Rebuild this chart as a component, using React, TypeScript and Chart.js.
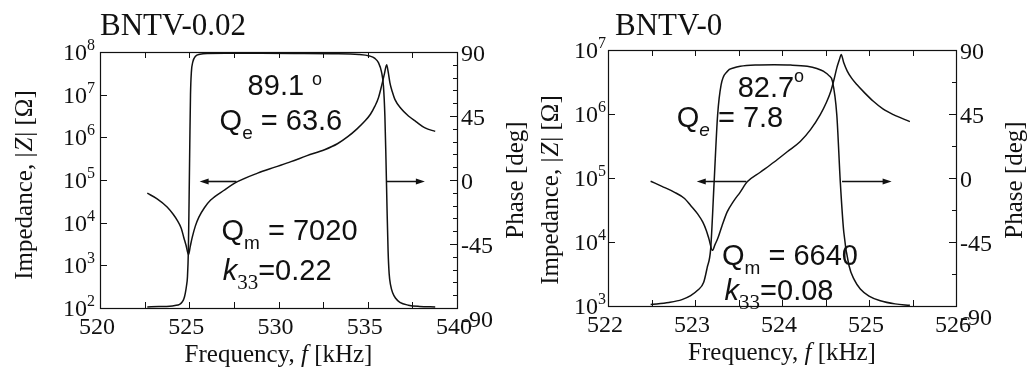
import React, { useEffect, useRef } from "react";
import { Chart, registerables } from "chart.js";

Chart.register(...registerables);

// ---------------- Data: BNTV-0.02 ----------------
const titleA = "BNTV-0.02";
const impFreqA = [522.65, 523.2, 523.76, 524.1, 524.32, 524.55, 524.69, 524.82, 524.96, 525.06, 525.17, 525.34, 525.54, 525.85, 526.2, 526.95, 527.7, 528.83, 529.8, 530.7, 531.6, 532.58, 533.3, 533.9, 534.4, 534.84, 535.15, 535.4, 535.6, 535.77, 535.93, 536.06, 536.15, 536.24, 536.38, 536.52, 536.85, 537.28, 537.7, 538.21, 538.78];
const impA = [49000, 36300, 23400, 15800, 11500, 7400, 4570, 2950, 1780, 2820, 4570, 8300, 13500, 22400, 33900, 57500, 91200, 145000, 200000, 269000, 372000, 513000, 708000, 1050000, 1580000, 2400000, 3470000, 5370000, 8510000, 15800000, 30200000, 50100000, 33100000, 19100000, 11500000, 7760000, 4790000, 3160000, 2340000, 1660000, 1380000];
const phFreqA = [522.65, 523.3, 523.9, 524.2, 524.46, 524.6, 524.7, 524.78, 524.85, 524.9, 524.95, 524.99, 525.03, 525.07, 525.12, 525.2, 525.35, 525.6, 526.0, 527.0, 529.0, 531.0, 533.0, 534.5, 535.1, 535.4, 535.6, 535.77, 535.88, 535.96, 536.02, 536.08, 536.14, 536.2, 536.28, 536.4, 536.55, 536.8, 537.28, 537.9, 538.78];
const phA = [-89.3, -89.0, -88.7, -88.2, -87.4, -85.8, -83.5, -79.5, -74, -68, -50, -15, 25, 60, 76, 83, 87, 88.4, 89.0, 89.1, 89.1, 89.0, 88.8, 88.3, 87.2, 85.5, 82.5, 76, 66, 45, 15, -20, -50, -66, -74, -79.5, -83, -86, -88, -88.9, -89.3];
const xTicksA = [520, 522.5, 525, 527.5, 530, 532.5, 535, 537.5, 540];
const xLabelsA = [520, 525, 530, 535, 540];
const decadesA = [2, 3, 4, 5, 6, 7, 8];
const phTicksA = [-90, -81, -72, -63, -54, -45, -36, -27, -18, -9, 0, 9, 18, 27, 36, 45, 54, 63, 72, 81, 90];

// ---------------- Data: BNTV-0 ----------------
const titleB = "BNTV-0";
const impFreqB = [522.49, 522.62, 522.76, 522.88, 522.95, 523.03, 523.09, 523.13, 523.16, 523.2, 523.23, 523.26, 523.31, 523.37, 523.44, 523.52, 523.6, 523.75, 523.91, 524.06, 524.21, 524.33, 524.44, 524.51, 524.56, 524.6, 524.63, 524.66, 524.68, 524.71, 524.75, 524.8, 524.86, 524.95, 525.05, 525.16, 525.28, 525.47];
const impB = [89100, 74100, 60300, 47900, 37200, 27500, 20400, 15100, 11200, 7400, 9100, 11200, 17800, 29500, 42700, 60300, 87100, 123000, 178000, 257000, 372000, 575000, 977000, 1510000, 2240000, 3550000, 5250000, 7080000, 8510000, 6310000, 4680000, 3630000, 2880000, 2140000, 1580000, 1200000, 977000, 759000];
const phFreqB = [522.49, 522.7, 522.85, 522.95, 523.03, 523.1, 523.14, 523.18, 523.22, 523.26, 523.3, 523.37, 523.45, 523.52, 523.7, 523.91, 524.1, 524.29, 524.4, 524.48, 524.54, 524.58, 524.63, 524.67, 524.71, 524.77, 524.83, 524.9, 525.0, 525.13, 525.3, 525.47];
const phB = [-89, -87.5, -85.5, -82.7, -79, -73.3, -63, -49.8, -2.7, 44.3, 65.5, 74.9, 77.5, 78.5, 79.4, 79.6, 79.4, 78.5, 77, 74.9, 72, 67.9, 44.3, -2.7, -38, -61.5, -71.5, -78, -83, -86.3, -88.5, -89.5];
const xTicksB = [522, 522.5, 523, 523.5, 524, 524.5, 525, 525.5, 526];
const xLabelsB = [522, 523, 524, 525, 526];
const decadesB = [3, 4, 5, 6, 7];
const phTicksB = [-90, -67.5, -45, -22.5, 0, 22.5, 45, 67.5, 90];

const phLabels = [-90, -45, 0, 45, 90];

const SERIF = '"Liberation Serif", "Times New Roman", serif';
const SANS = '"Liberation Sans", Arial, sans-serif';

type Seg = { t: string; font: string; dy?: number; dx?: number };

function segWidth(ctx: CanvasRenderingContext2D, segs: Seg[]) {
  let w = 0;
  for (const s of segs) {
    ctx.font = s.font;
    w += ctx.measureText(s.t).width + (s.dx || 0);
  }
  return w;
}

function drawSegs(ctx: CanvasRenderingContext2D, segs: Seg[], x: number, y: number, align: "left" | "right" | "center") {
  const w = segWidth(ctx, segs);
  let cx = align === "left" ? x : align === "right" ? x - w : x - w / 2;
  ctx.textAlign = "left";
  ctx.textBaseline = "alphabetic";
  for (const s of segs) {
    ctx.font = s.font;
    cx += s.dx || 0;
    ctx.fillText(s.t, cx, y + (s.dy || 0));
    cx += ctx.measureText(s.t).width;
  }
}

function arrow(ctx: CanvasRenderingContext2D, x0: number, x1: number, y: number) {
  const dir = x1 > x0 ? 1 : -1;
  ctx.beginPath();
  ctx.moveTo(x0, y);
  ctx.lineTo(x1 - dir * 6, y);
  ctx.lineWidth = 1.6;
  ctx.stroke();
  ctx.beginPath();
  ctx.moveTo(x1, y);
  ctx.lineTo(x1 - dir * 9, y - 3);
  ctx.lineTo(x1 - dir * 9, y + 3);
  ctx.closePath();
  ctx.fill();
}

type Panel = {
  title: string;
  impFreq: number[];
  imp: number[];
  phFreq: number[];
  ph: number[];
  xMin: number;
  xMax: number;
  decMin: number;
  decMax: number;
  xTicks: number[];
  xLabels: number[];
  decades: number[];
  phTicks: number[];
  canvasLeft: number;
  canvasWidth: number;
  padding: { left: number; right: number; top: number; bottom: number };
  titleDx: number;
  labelGap: number;
  yTitleX: number;
  yTitleY: number;
  italicE: boolean;
  annot: { ang: string; angX: number; angY: number; degDy: number; degGap: string; qe: string; qeX: number; qeY: number; qm: string; qmX: number; qmY: number; k: string; kX: number; kY: number };
  arrows: { from: number; to: number; y: number }[];
};

const panelA: Panel = {
  title: titleA,
  impFreq: impFreqA,
  imp: impA,
  phFreq: phFreqA,
  ph: phA,
  xMin: 520,
  xMax: 540,
  decMin: 2,
  decMax: 8,
  xTicks: xTicksA,
  xLabels: xLabelsA,
  decades: decadesA,
  phTicks: phTicksA,
  canvasLeft: 0,
  canvasWidth: 530,
  padding: { left: 100, right: 73, top: 52, bottom: 63 },
  titleDx: 0,
  labelGap: 5,
  yTitleX: 24,
  yTitleY: 185,
  italicE: false,
  annot: { ang: "89.1", angX: 528.27, angY: 59.8, degDy: -10, degGap: " ", qe: "63.6", qeX: 526.7, qeY: 35.2, qm: "7020", qmX: 526.81, qmY: -42.2, k: "0.22", kX: 526.87, kY: -70.3 },
  arrows: [
    { from: 527.64, to: 525.58, y: -0.9 },
    { from: 536.07, to: 538.2, y: -0.9 },
  ],
};

const panelB: Panel = {
  title: titleB,
  impFreq: impFreqB,
  imp: impB,
  phFreq: phFreqB,
  ph: phB,
  xMin: 522,
  xMax: 526,
  decMin: 3,
  decMax: 7,
  xTicks: xTicksB,
  xLabels: xLabelsB,
  decades: decadesB,
  phTicks: phTicksB,
  canvasLeft: 500,
  canvasWidth: 527,
  padding: { left: 108, right: 71, top: 50, bottom: 65 },
  titleDx: 7,
  labelGap: 2,
  yTitleX: 50,
  yTitleY: 190,
  italicE: true,
  annot: { ang: "82.7", angX: 523.49, angY: 57, degDy: -15, degGap: "", qe: "7.8", qeX: 522.79, qeY: 35.9, qm: "6640", qmX: 523.31, qmY: -61.2, k: "0.08", kX: 523.34, kY: -85.8 },
  arrows: [
    { from: 523.59, to: 523.02, y: -2.3 },
    { from: 524.69, to: 525.26, y: -2.3 },
  ],
};

function makeDecor(p: Panel) {
  return {
    id: "decor",
    afterDatasetsDraw(chart: any) {
      const ctx: CanvasRenderingContext2D = chart.ctx;
      const a = chart.chartArea;
      const sx = chart.scales.x;
      const sy = chart.scales.y;
      const sp = chart.scales.y2;
      ctx.save();
      ctx.strokeStyle = "#111";
      ctx.fillStyle = "#111";
      // frame
      ctx.lineWidth = 1.2;
      ctx.strokeRect(a.left + 0.5, a.top + 0.5, a.right - a.left, a.bottom - a.top);
      // x ticks (bottom and top, inward)
      ctx.lineWidth = 1;
      ctx.beginPath();
      for (const v of p.xTicks) {
        const px = Math.round(sx.getPixelForValue(v)) + 0.5;
        ctx.moveTo(px, a.bottom);
        ctx.lineTo(px, a.bottom - 6);
        ctx.moveTo(px, a.top);
        ctx.lineTo(px, a.top + 6);
      }
      // log decade ticks on the left
      for (const d of p.decades) {
        const py = Math.round(sy.getPixelForValue(Math.pow(10, d))) + 0.5;
        ctx.moveTo(a.left, py);
        ctx.lineTo(a.left + 7, py);
      }
      // phase ticks on the right
      for (const v of p.phTicks) {
        const py = Math.round(sp.getPixelForValue(v)) + 0.5;
        const len = v % 45 === 0 ? 7 : 4;
        ctx.moveTo(a.right, py);
        ctx.lineTo(a.right - len, py);
      }
      ctx.stroke();

      // x labels
      const numFont = `24px ${SERIF}`;
      ctx.font = numFont;
      for (const v of p.xLabels) {
        const px = sx.getPixelForValue(v);
        drawSegs(ctx, [{ t: String(v), font: numFont }], px - 3, a.bottom + 26, "center");
      }
      // log labels
      for (const d of p.decades) {
        const py = sy.getPixelForValue(Math.pow(10, d));
        drawSegs(
          ctx,
          [
            { t: "10", font: numFont },
            { t: String(d), font: `16px ${SERIF}`, dy: -10 },
          ],
          a.left - p.labelGap,
          py + 8,
          "right"
        );
      }
      // phase labels
      for (const v of phLabels) {
        const py = sp.getPixelForValue(v);
        drawSegs(ctx, [{ t: String(v), font: numFont }], a.right + 4, py + (v === -90 ? 19 : 9), "left");
      }
      // x title
      const tFont = `25px ${SERIF}`;
      const tItal = `italic 25px ${SERIF}`;
      drawSegs(
        ctx,
        [
          { t: "Frequency, ", font: tFont },
          { t: "f", font: tItal },
          { t: " [kHz]", font: tFont },
        ],
        (a.left + a.right) / 2,
        a.bottom + 54,
        "center"
      );
      // y title (left)
      ctx.save();
      ctx.translate(p.yTitleX, p.yTitleY);
      ctx.rotate(-Math.PI / 2);
      drawSegs(
        ctx,
        [
          { t: "Impedance, |", font: tFont },
          { t: "Z", font: tItal, dx: 1 },
          { t: "| [Ω]", font: tFont, dx: 1 },
        ],
        0,
        8,
        "center"
      );
      ctx.restore();
      // y2 title (right)
      ctx.save();
      ctx.translate(a.right + 58, 180);
      ctx.rotate(-Math.PI / 2);
      drawSegs(ctx, [{ t: "Phase [deg]", font: tFont }], 0, 8, "center");
      ctx.restore();
      // panel title
      drawSegs(ctx, [{ t: p.title, font: `31px ${SERIF}` }], a.left + p.titleDx, 35, "left");

      // annotations
      const big = `29px ${SANS}`;
      const an = p.annot;
      drawSegs(
        ctx,
        [
          { t: an.ang + an.degGap, font: big },
          { t: "o", font: `18px ${SANS}`, dy: an.degDy },
        ],
        sx.getPixelForValue(an.angX),
        sp.getPixelForValue(an.angY),
        "left"
      );
      drawSegs(
        ctx,
        [
          { t: "Q", font: big },
          { t: "e", font: `${p.italicE ? "italic " : ""}19px ${SANS}`, dy: 9 },
          { t: " = " + an.qe, font: big },
        ],
        sx.getPixelForValue(an.qeX),
        sp.getPixelForValue(an.qeY),
        "left"
      );
      drawSegs(
        ctx,
        [
          { t: "Q", font: big },
          { t: "m", font: `19px ${SANS}`, dy: 9 },
          { t: " = " + an.qm, font: big },
        ],
        sx.getPixelForValue(an.qmX),
        sp.getPixelForValue(an.qmY),
        "left"
      );
      drawSegs(
        ctx,
        [
          { t: "k", font: `italic 29px ${SANS}` },
          { t: "33", font: `21px ${SERIF}`, dy: 9 },
          { t: "=" + an.k, font: big },
        ],
        sx.getPixelForValue(an.kX),
        sp.getPixelForValue(an.kY),
        "left"
      );
      // arrows
      for (const ar of p.arrows) {
        const y = Math.round(sp.getPixelForValue(ar.y)) + 0.5;
        arrow(ctx, sx.getPixelForValue(ar.from), sx.getPixelForValue(ar.to), y);
      }
      ctx.restore();
    },
  };
}

function ImpedancePanel({ p }: { p: Panel }) {
  const ref = useRef<HTMLCanvasElement>(null);
  useEffect(() => {
    const canvas = ref.current;
    if (!canvas) return;
    const impData = p.impFreq.map((f, i) => ({ x: f, y: p.imp[i] }));
    const phData = p.phFreq.map((f, i) => ({ x: f, y: p.ph[i] }));
    const chart = new Chart(canvas, {
      type: "line",
      data: {
        datasets: [
          {
            label: "|Z|",
            data: impData,
            yAxisID: "y",
            borderColor: "#111",
            borderWidth: 1.5,
            pointRadius: 0,
            cubicInterpolationMode: "monotone",
            fill: false,
          },
          {
            label: "Phase",
            data: phData,
            yAxisID: "y2",
            borderColor: "#111",
            borderWidth: 1.5,
            pointRadius: 0,
            cubicInterpolationMode: "monotone",
            fill: false,
          },
        ],
      },
      options: {
        responsive: false,
        animation: false,
        devicePixelRatio: 1,
        layout: { padding: p.padding },
        plugins: { legend: { display: false }, tooltip: { enabled: false }, title: { display: false } },
        scales: {
          x: { type: "linear", min: p.xMin, max: p.xMax, display: false },
          y: { type: "logarithmic", min: Math.pow(10, p.decMin), max: Math.pow(10, p.decMax), display: false },
          y2: { type: "linear", min: -90, max: 90, display: false },
        },
      } as any,
      plugins: [makeDecor(p)],
    });
    return () => chart.destroy();
  }, [p]);
  return (
    <canvas
      ref={ref}
      width={p.canvasWidth}
      height={371}
      style={{ position: "absolute", left: p.canvasLeft, top: 0, width: p.canvasWidth, height: 371 }}
    />
  );
}

export default function App() {
  return (
    <div style={{ position: "absolute", left: 0, top: 0, width: 1027, height: 371, background: "#fff", overflow: "hidden" }}>
      <ImpedancePanel p={panelA} />
      <ImpedancePanel p={panelB} />
    </div>
  );
}
